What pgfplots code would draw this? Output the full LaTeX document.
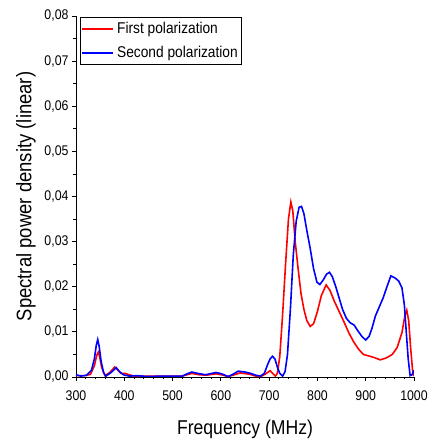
\documentclass[border=0pt]{standalone}
\usepackage{fontspec}
\setmainfont{Liberation Sans}[FakeStretch=0.88]
\usepackage{pgfplots}
\pgfplotsset{compat=1.18}
\begin{document}
\begin{tikzpicture}
\begin{axis}[
  name=ax,
  scale only axis, width=338pt, height=361pt,
  xmin=300, xmax=1000, ymin=0, ymax=0.08,
  axis x line*=bottom, axis y line*=left,
  axis line style={line width=0.8pt},
  tick align=outside, tick style={black, line width=0.8pt},
  major tick length=4pt, minor tick length=2.5pt,
  xtick={300,400,...,1000}, minor x tick num=4,
  ytick={0,0.01,...,0.08}, minor y tick num=1,
  /pgf/number format/assume math mode=true,
  y tick label style={/pgf/number format/fixed, /pgf/number format/fixed zerofill, /pgf/number format/precision=2, /pgf/number format/use comma},
  x tick label style={/pgf/number format/1000 sep={}, yshift=-6pt},
  scaled y ticks=false,
  tick label style={font=\fontsize{14}{16}\selectfont},
  xlabel={Frequency (MHz)}, ylabel={Spectral power density (linear)},
  xlabel style={font=\fontsize{20}{24}\selectfont, yshift=-13pt},
  ylabel style={font=\fontsize{21}{25}\selectfont, yshift=2pt},
]
\addplot[draw=red, line width=1.6pt] coordinates {
(300,0.0003)(320,0.0003)(330,0.0006)(338,0.0025)(343,0.0048)(346,0.0055)(349,0.0045)(353,0.0022)(360,0.0003)(370,0.0010)(380,0.0022)(387,0.0015)(393,0.0008)(402,0.0008)(410,0.0005)(420,0.0002)(450,0.0002)(500,0.0002)(520,0.0002)(530,0.0005)(540,0.0008)(555,0.0005)(570,0.0004)(590,0.0007)(605,0.0004)(615,0.0001)(625,0.0004)(640,0.0009)(660,0.0006)(672,0.0002)(683,0.0001)(693,0.0007)(702,0.0014)(708,0.0007)(713,0.0002)(717,0.0008)(722,0.0045)(728,0.014)(734,0.025)(740,0.035)(745,0.0388)(749,0.0368)(754,0.030)(760,0.024)(766,0.0185)(772,0.015)(778,0.0125)(785,0.0112)(792,0.0118)(800,0.0145)(808,0.0180)(818,0.0204)(826,0.0192)(835,0.0168)(845,0.0145)(855,0.0122)(865,0.0098)(875,0.0078)(885,0.0062)(895,0.0050)(905,0.0047)(918,0.0043)(930,0.0038)(942,0.0042)(955,0.0050)(965,0.0065)(975,0.0098)(981,0.0135)(985,0.0148)(989,0.0125)(993,0.0065)(997,0.0015)(1000,0.0002)
};
\addplot[draw=blue, line width=1.6pt] coordinates {
(300,0.0005)(310,0.0002)(322,0.0004)(332,0.0015)(338,0.0040)(342,0.0070)(345,0.0083)(348,0.0068)(352,0.0035)(357,0.0010)(362,0.0002)(370,0.0008)(377,0.0014)(383,0.0021)(390,0.0012)(398,0.0005)(410,0.0002)(428,0.0003)(445,0.0001)(480,0.0002)(520,0.0002)(530,0.0007)(540,0.0011)(552,0.0008)(568,0.0005)(590,0.0010)(602,0.0007)(615,0.0001)(625,0.0006)(636,0.0013)(650,0.0011)(662,0.0008)(672,0.0004)(682,0.0002)(690,0.0008)(697,0.0028)(702,0.0040)(707,0.0046)(712,0.0040)(717,0.0022)(722,0.0008)(728,0.0002)(733,0.0012)(738,0.0050)(744,0.015)(750,0.027)(756,0.0345)(762,0.0376)(767,0.0378)(772,0.0362)(778,0.0325)(785,0.0285)(792,0.0240)(799,0.0210)(805,0.0205)(812,0.0215)(819,0.0228)(825,0.0232)(831,0.0222)(838,0.0200)(845,0.0175)(852,0.0150)(860,0.0130)(868,0.0120)(876,0.0115)(884,0.0102)(892,0.0090)(900,0.0082)(907,0.0090)(913,0.0108)(920,0.0135)(928,0.0155)(936,0.0175)(944,0.0200)(952,0.0224)(960,0.0220)(968,0.0213)(975,0.0198)(980,0.0160)(984,0.0100)(988,0.0040)(992,0.0003)(996,0.0005)(1000,0.0015)
};
\node[anchor=west, inner sep=0pt, font=\fontsize{15.6}{18}\selectfont, xshift=41pt, yshift=-13pt] (t1) at (rel axis cs:0,1) {First polarization};
\node[anchor=west, inner sep=0pt, font=\fontsize{15.6}{18}\selectfont, xshift=41pt, yshift=-37pt] (t2) at (rel axis cs:0,1) {Second polarization};
\draw[red, line width=1.6pt] ([xshift=-35pt]t1.west) -- ([xshift=-4pt]t1.west);
\draw[blue, line width=1.6pt] ([xshift=-35pt]t2.west) -- ([xshift=-4pt]t2.west);
\draw[black, line width=0.8pt] ([xshift=-37pt, yshift=4pt]t1.north west) rectangle ([xshift=3pt, yshift=-4pt]t2.south east);
\end{axis}
\pgfresetboundingbox
\path ([xshift=-76pt,yshift=-64pt]ax.south west) rectangle ([xshift=14pt,yshift=16pt]ax.north east);
\end{tikzpicture}
\end{document}
